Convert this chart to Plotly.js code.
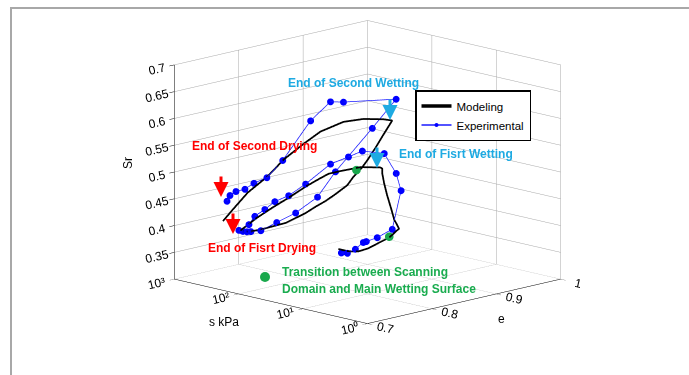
<!DOCTYPE html>
<html>
<head>
<meta charset="utf-8">
<script src="https://cdn.plot.ly/plotly-3.0.1.min.js"></script>
<style>
  html, body { margin: 0; padding: 0; background: #ffffff; }
  #chart { width: 689px; height: 375px; }
</style>
</head>
<body>
<div id="chart"></div>
<script>
// ---------------- data (void ratio e, suction s [kPa], degree of saturation Sr) ----------------
// Modeling path: first wetting -> first drying -> second wetting -> second drying
const modelE = [0.77,0.77,0.77,0.77,0.77,0.77,0.77,0.77,0.77,0.77,0.77,0.77,0.77,0.77,
  0.765,0.765,0.765,0.765,0.765,0.765,0.765,0.765,0.765,0.765,0.765,0.765,
  0.77,0.77,0.77,0.77,0.77,0.77,0.77,0.77,0.77,0.77,0.77,0.77,0.77,0.77,0.77,0.77,
  0.76,0.76,0.76,0.76,0.76,0.76,0.76,0.76,0.76,0.76];
const modelS = [14.2,9.94,6.96,4.88,3.42,2.31,1.74,1.62,1.93,2.15,2.48,2.76,2.96,2.96,
  2.83,4.05,5.78,8.25,11.8,18.0,28.7,40.9,75.0,133,243,414,
  465,326,228,149,93.7,45.9,32.2,22.5,15.8,10.3,8.32,6.04,5.05,3.80,2.86,2.07,
  2.27,4.62,9.42,21.4,39.1,79.8,141,288,491,700];
const modelSr = [0.388,0.388,0.392,0.402,0.416,0.431,0.448,0.452,0.467,0.486,0.509,0.530,0.548,0.557,
  0.561,0.557,0.553,0.545,0.537,0.527,0.508,0.493,0.465,0.440,0.412,0.384,
  0.379,0.383,0.391,0.402,0.414,0.441,0.457,0.472,0.489,0.511,0.529,0.551,0.566,0.592,0.620,0.651,
  0.655,0.647,0.633,0.605,0.575,0.537,0.499,0.460,0.422,0.396];

// Experimental path
const expE = [0.77,0.77,0.77,0.77,0.77,0.77,0.77,0.77,0.77,0.77,
  0.765,0.765,0.765,0.765,0.765,0.765,0.765,0.765,0.765,0.765,
  0.77,0.77,0.77,0.77,0.77,0.77,0.77,0.77,0.77,0.78,
  0.76,0.76,0.76,0.76,0.76,0.76,0.76,0.76,0.76,0.76];
const expS = [12.8,10.3,7.75,5.83,5.24,3.54,2.07,1.51,1.80,2.76,
  5.38,8.85,16.8,40.9,75.0,123,176,252,311,445,
  433,376,326,228,129,65.6,30.0,15.8,4.23,2.27,
  9.42,15.0,30.5,82.7,146,232,320,441,546,607];
const expSr = [0.382,0.384,0.395,0.411,0.414,0.426,0.448,0.524,0.554,0.586,
  0.584,0.567,0.546,0.498,0.469,0.452,0.433,0.416,0.398,0.383,
  0.380,0.381,0.383,0.389,0.411,0.437,0.476,0.531,0.628,0.687,
  0.670,0.665,0.621,0.535,0.496,0.480,0.465,0.457,0.447,0.435];

// Transition points (scanning domain -> main surface)
const transE = [0.765, 0.77];
const transS = [6.66, 2.31];
const transSr = [0.546, 0.433];

// Axis ticks
const eTicks = [0.7, 0.8, 0.9, 1];
const eTickText = ['0.7', '0.8', '0.9', '1'];
const sTicks = [1, 10, 100, 1000];
const sTickText = ['10\u2070', '10\u00B9', '10\u00B2', '10\u00B3'];
const srTicks = [0.35, 0.4, 0.45, 0.5, 0.55, 0.6, 0.65, 0.7];
const srTickText = ['0.35', '0.4', '0.45', '0.5', '0.55', '0.6', '0.65', '0.7'];

// ---------------- layout helpers ----------------
const W = 689, H = 375;
const px = x => x / W;
const py = y => 1 - y / H;
const FONT = 'Liberation Sans, Arial, sans-serif';

const traces = [
  {
    type: 'scatter3d', mode: 'lines', name: 'Modeling',
    x: modelE, y: modelS, z: modelSr,
    line: { color: '#000000', width: 3.5 },
    hoverinfo: 'skip'
  },
  {
    type: 'scatter3d', mode: 'lines+markers', name: 'Experimental',
    x: expE, y: expS, z: expSr,
    line: { color: '#1a1aff', width: 1.5 },
    marker: { color: '#0000ff', size: 4, line: { width: 0 } },
    hoverinfo: 'skip'
  },
  {
    type: 'scatter3d', mode: 'markers', name: 'Transition', showlegend: false,
    x: transE, y: transS, z: transSr,
    marker: { color: '#19a84c', size: 5, line: { width: 0 } },
    hoverinfo: 'skip'
  }
];

const axisCommon = {
  showbackground: false,
  showgrid: true, gridcolor: '#a8a8a8', gridwidth: 1,
  showline: true, linecolor: '#000000', linewidth: 1,
  zeroline: false, showspikes: false,
  ticks: 'outside', tickcolor: '#000000', ticklen: 7,
  tickfont: { family: FONT, size: 12, color: '#000000' },
  title: { text: '' }
};

const eyeR = 1.26;
const txt = (x, y, text, color, extra) => Object.assign({
  xref: 'paper', yref: 'paper', x: px(x), y: py(y), text: text, showarrow: false,
  xanchor: 'center', yanchor: 'middle',
  font: { family: FONT, size: 12, color: color }
}, extra || {});
const arrow = (x, y, color) => ({
  xref: 'paper', yref: 'paper', x: px(x), y: py(y), ax: 0, ay: -22, text: '', showarrow: true,
  arrowhead: 2, arrowsize: 1, arrowwidth: 3, arrowcolor: color
});

const CYAN = '#1eaae2', RED = '#ff0000', GREEN = '#1aac4f';

const layout = {
  width: W, height: H,
  margin: { l: 0, r: 0, t: 0, b: 0 },
  paper_bgcolor: '#ffffff',
  showlegend: true,
  legend: {
    x: px(415), y: py(90), xanchor: 'left', yanchor: 'top',
    bgcolor: '#ffffff', bordercolor: '#000000', borderwidth: 1.5,
    font: { family: FONT, size: 11.5, color: '#000000' },
    itemwidth: 30, tracegroupgap: 0
  },
  scene: {
    domain: { x: [0.067, 1], y: [0.083, 1] },
    aspectmode: 'manual',
    aspectratio: { x: 1.588, y: 1.588, z: 1.28 },
    camera: {
      eye: { x: -0.688 * eyeR, y: -0.688 * eyeR, z: 0.230 * eyeR },
      up: { x: 0, y: 0, z: 1 },
      center: { x: 0, y: 0, z: 0 },
      projection: { type: 'orthographic' }
    },
    xaxis: Object.assign({}, axisCommon, { range: [0.7, 1], tickvals: eTicks, ticktext: eTickText }),
    yaxis: Object.assign({}, axisCommon, { type: 'log', range: [0, 3], tickvals: sTicks, ticktext: sTickText }),
    zaxis: Object.assign({}, axisCommon, { range: [0.3, 0.7], tickvals: srTicks, ticktext: srTickText })
  },
  annotations: [
    txt(128, 163, 'Sr', '#000', { textangle: -90 }),
    txt(224, 322, 's kPa', '#000'),
    txt(501, 319, 'e', '#000'),
    txt(353, 83, '<b>End of Second Wetting</b>', CYAN),
    txt(255, 146, '<b>End of Second Drying</b>', RED),
    txt(456, 154, '<b>End of Fisrt Wetting</b>', CYAN),
    txt(262, 248, '<b>End of Fisrt Drying</b>', RED),
    txt(280, 272, '<b>Transition between Scanning</b>', GREEN, { xanchor: 'left' }),
    txt(280, 289, '<b>Domain and Main Wetting Surface</b>', GREEN, { xanchor: 'left' }),
    arrow(221, 197, RED),
    arrow(233, 234, RED),
    arrow(390, 120, CYAN),
    arrow(377, 168, CYAN)
  ],
  shapes: [
    { type: 'rect', xref: 'paper', yref: 'paper', x0: px(11), x1: 1.05, y0: -0.05, y1: py(8),
      line: { color: '#a8a8a8', width: 2 }, fillcolor: 'rgba(0,0,0,0)' },
    { type: 'circle', xref: 'paper', yref: 'paper', x0: px(260), x1: px(270), y0: py(282), y1: py(272),
      line: { width: 0 }, fillcolor: '#19a84c' }
  ],
  hovermode: false
};

Plotly.newPlot('chart', traces, layout, { displayModeBar: false });
</script>
</body>
</html>
